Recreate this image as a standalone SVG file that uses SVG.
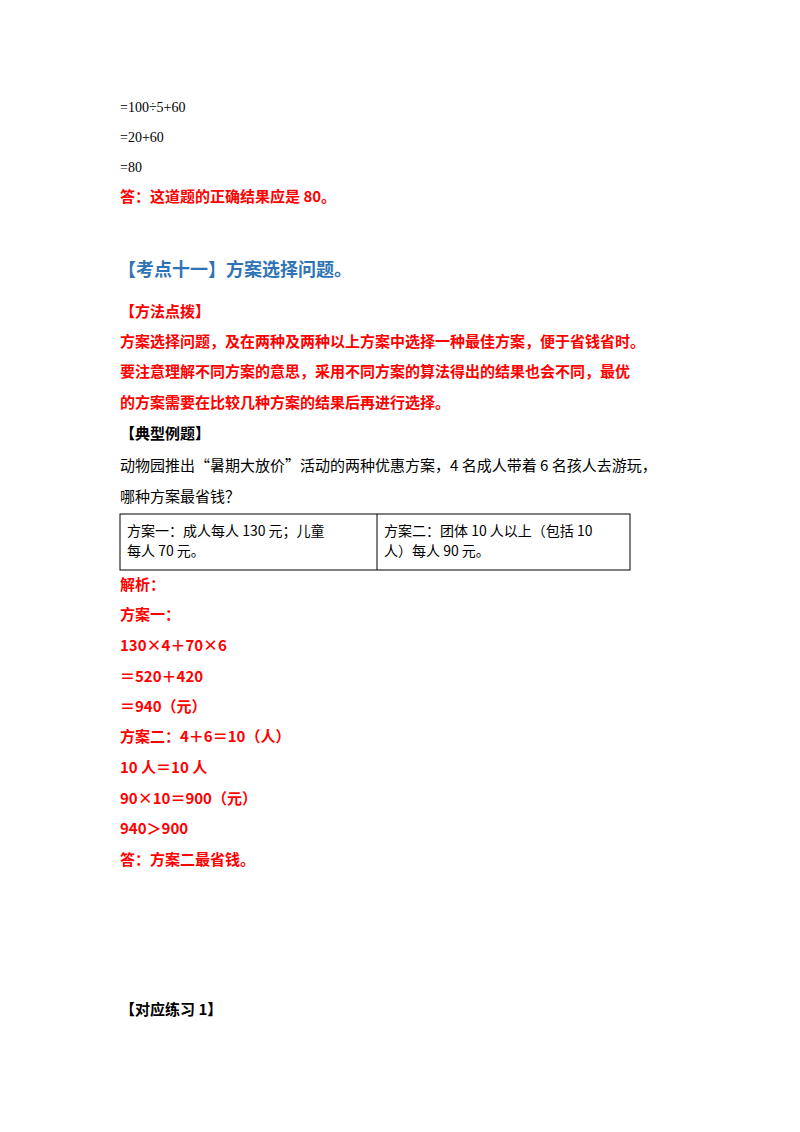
<svg xmlns="http://www.w3.org/2000/svg" width="800" height="1132" viewBox="0 0 800 1132">
<style>
text{font-family:"Noto Sans CJK SC","Noto Sans",sans-serif;font-size:15px;fill:#000}
.m{font-family:"Liberation Serif",serif;font-size:14px}
.r{fill:#f00;font-weight:bold}
.b{font-weight:bold}
.h{fill:#2e74b5;font-weight:bold;font-size:18px}
.t{font-size:14px}
</style>
<rect width="800" height="1132" fill="#fff"/>
<text class="m" x="120" y="112">=100÷5+60</text>
<text class="m" x="120" y="142">=20+60</text>
<text class="m" x="120" y="172">=80</text>
<text class="r" x="120" y="202">答：这道题的正确结果应是 80。</text>
<text class="h" x="118" y="276">【考点十一】方案选择问题。</text>
<text class="r" x="120" y="317">【方法点拨】</text>
<text class="r" x="120" y="347">方案选择问题，及在两种及两种以上方案中选择一种最佳方案，便于省钱省时。</text>
<text class="r" x="120" y="377">要注意理解不同方案的意思，采用不同方案的算法得出的结果也会不同，最优</text>
<text class="r" x="120" y="408">的方案需要在比较几种方案的结果后再进行选择。</text>
<text class="b" x="120" y="439">【典型例题】</text>
<text x="120" y="471">动物园推出“暑期大放价”活动的两种优惠方案，4 名成人带着 6 名孩人去游玩，</text>
<text x="120" y="502">哪种方案最省钱？</text>
<g id="table" fill="none" stroke="#000" stroke-width="1">
<rect x="120" y="514" width="510" height="56"/>
<line x1="377" y1="514" x2="377" y2="570"/>
</g>
<text class="t" x="127" y="536">方案一：成人每人 130 元；儿童</text>
<text class="t" x="127" y="556">每人 70 元。</text>
<text class="t" x="384" y="536">方案二：团体 10 人以上（包括 10</text>
<text class="t" x="384" y="556">人）每人 90 元。</text>
<text class="r" x="120" y="590">解析：</text>
<text class="r" x="120" y="620">方案一：</text>
<text class="r" x="120" y="651">130×4＋70×6</text>
<text class="r" x="120" y="682">＝520＋420</text>
<text class="r" x="120" y="712">＝940（元）</text>
<text class="r" x="120" y="742">方案二：4＋6＝10（人）</text>
<text class="r" x="120" y="773">10 人＝10 人</text>
<text class="r" x="120" y="804">90×10＝900（元）</text>
<text class="r" x="120" y="834">940＞900</text>
<text class="r" x="120" y="865">答：方案二最省钱。</text>
<text class="b" x="120" y="1015">【对应练习 1】</text>
</svg>
